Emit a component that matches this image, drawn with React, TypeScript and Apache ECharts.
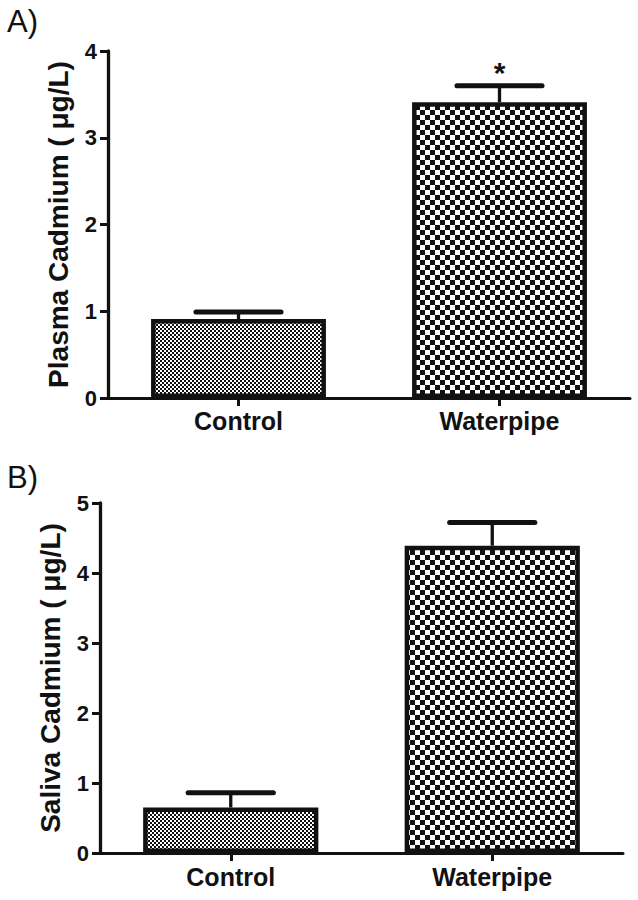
import React, { useEffect, useRef } from "react";
import * as echarts from "echarts";

const categories = ["Control", "Waterpipe"];
const plasmaMean = [0.91, 3.41];
const plasmaErr = [0.08, 0.19];
const plasmaSig = ["", "*"];
const salivaMean = [0.65, 4.39];
const salivaErr = [0.21, 0.33];
const salivaSig = ["", ""];
const plasmaMax = 4;
const salivaMax = 5;

const INK = "#111";
const FONT = "'Liberation Sans', Arial, Helvetica, sans-serif";

const fineSvg =
  "<svg xmlns='http://www.w3.org/2000/svg' width='4' height='4'><rect width='4' height='4' fill='white'/><rect x='0' y='0' width='2' height='2' fill='%23111'/><rect x='2' y='2' width='2' height='2' fill='%23111'/></svg>";
const coarseSvg =
  "<svg xmlns='http://www.w3.org/2000/svg' width='10' height='10'><rect width='10' height='10' fill='white'/><rect x='0' y='0' width='5' height='5' fill='%23111'/><rect x='5' y='5' width='5' height='5' fill='%23111'/></svg>";

const finePattern = {
  image: "data:image/svg+xml;utf8," + fineSvg,
  repeat: "repeat",
  imageWidth: 4,
  imageHeight: 4,
};
const coarsePattern = {
  image: "data:image/svg+xml;utf8," + coarseSvg,
  repeat: "repeat",
  imageWidth: 10,
  imageHeight: 10,
};
const patterns = [finePattern, coarsePattern];

function barData(means: number[]) {
  return means.map((v, i) => ({
    value: v,
    itemStyle: { color: patterns[i] as any },
  }));
}

function errRender(sig: string[]) {
  return (params: any, api: any) => {
    const idx = api.value(0);
    const mean = api.value(1);
    const err = api.value(2);
    const p0 = api.coord([idx, mean]);
    const p1 = api.coord([idx, mean + err]);
    const band = api.size([1, 0])[0];
    const half = band * 0.163;
    const children: any[] = [
      {
        type: "line",
        shape: { x1: p0[0], y1: p0[1], x2: p1[0], y2: p1[1] },
        style: { stroke: INK, lineWidth: 3.3 },
      },
      {
        type: "line",
        shape: { x1: p1[0] - half, y1: p1[1], x2: p1[0] + half, y2: p1[1] },
        style: { stroke: INK, lineWidth: 5, lineCap: "round" },
      },
    ];
    const s = sig[params.dataIndex];
    if (s) {
      children.push({
        type: "text",
        x: p1[0],
        y: p1[1] - 13,
        style: {
          text: s,
          fill: INK,
          fontSize: 30,
          fontWeight: "bold",
          fontFamily: FONT,
          align: "center",
          verticalAlign: "middle",
        },
      });
    }
    return { type: "group", children };
  };
}

function xAxis(gridIndex: number, margin: number) {
  return {
    type: "category",
    gridIndex,
    data: categories,
    boundaryGap: true,
    axisLine: { show: true, lineStyle: { color: INK, width: 3 } },
    axisTick: { show: true, alignWithLabel: true, length: 8, lineStyle: { color: INK, width: 3 } },
    axisLabel: { color: INK, fontSize: 25, fontWeight: "bold", fontFamily: FONT, margin },
    splitLine: { show: false },
  };
}

function yAxis(gridIndex: number, max: number, name: string) {
  return {
    type: "value",
    gridIndex,
    min: 0,
    max,
    interval: 1,
    name,
    nameLocation: "middle",
    nameGap: 36,
    nameRotate: 90,
    nameTextStyle: { color: INK, fontSize: 28, fontWeight: "bold", fontFamily: FONT },
    axisLine: { show: true, lineStyle: { color: INK, width: 3.3 } },
    axisTick: { show: true, length: 8, lineStyle: { color: INK, width: 3 } },
    axisLabel: { color: INK, fontSize: 22, fontWeight: "bold", fontFamily: FONT, margin: 11 },
    splitLine: { show: false },
  };
}

export default function App() {
  const ref = useRef<HTMLDivElement>(null);
  useEffect(() => {
    if (!ref.current) return;
    const chart = echarts.init(ref.current, null, { renderer: "svg" });
    const option: any = {
      animation: false,
      backgroundColor: "#fff",
      grid: [
        { left: 108, top: 51, width: 522, height: 347 },
        { left: 100, top: 503, width: 523, height: 350 },
      ],
      xAxis: [xAxis(0, 10), xAxis(1, 11)],
      yAxis: [
        yAxis(0, plasmaMax, "Plasma Cadmium ( μg/L)"),
        yAxis(1, salivaMax, "Saliva Cadmium ( μg/L)"),
      ],
      graphic: [
        {
          type: "text",
          left: 7,
          top: 6,
          style: { text: "A)", fill: INK, fontSize: 31, fontFamily: FONT },
        },
        {
          type: "text",
          left: 7,
          top: 462,
          style: { text: "B)", fill: INK, fontSize: 31, fontFamily: FONT },
        },
      ],
      series: [
        {
          type: "bar",
          xAxisIndex: 0,
          yAxisIndex: 0,
          barWidth: "67%",
          data: barData(plasmaMean),
          itemStyle: { borderColor: INK, borderWidth: 4.5 },
          z: 2,
        },
        {
          type: "custom",
          xAxisIndex: 0,
          yAxisIndex: 0,
          renderItem: errRender(plasmaSig),
          data: plasmaMean.map((m, i) => [i, m, plasmaErr[i]]),
          z: 3,
        },
        {
          type: "bar",
          xAxisIndex: 1,
          yAxisIndex: 1,
          barWidth: "67%",
          data: barData(salivaMean),
          itemStyle: { borderColor: INK, borderWidth: 4.5 },
          z: 2,
        },
        {
          type: "custom",
          xAxisIndex: 1,
          yAxisIndex: 1,
          renderItem: errRender(salivaSig),
          data: salivaMean.map((m, i) => [i, m, salivaErr[i]]),
          z: 3,
        },
      ],
    };
    chart.setOption(option);
    return () => chart.dispose();
  }, []);
  return (
    <div
      ref={ref}
      style={{ position: "absolute", left: 0, top: 0, width: 638, height: 900, background: "#fff" }}
    />
  );
}
